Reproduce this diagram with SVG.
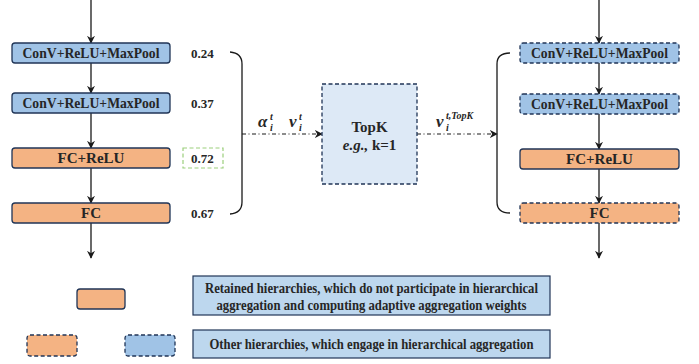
<svg xmlns="http://www.w3.org/2000/svg" width="699" height="364" viewBox="0 0 699 364" font-family="'Liberation Serif', 'Times New Roman', serif">
<defs>
<style>
.blue{fill:#a0c3e6;stroke:#203557;stroke-width:1.3}
.orange{fill:#f4b383;stroke:#203557;stroke-width:1.3}
.dash{stroke-dasharray:4 2.5}
text{font-family:'Liberation Serif','Times New Roman',serif;font-weight:bold;fill:#262626}
.lbl{font-size:15px;text-anchor:middle}
.val{font-size:13px}
.math{font-style:italic}
.line{stroke:#1a1a1a;stroke-width:1.3;fill:none}
.dd{stroke:#1a1a1a;stroke-width:1.2;fill:none;stroke-dasharray:4 2.5 1 2.5}
.legtxt{font-size:15px;text-anchor:middle}
</style>
<marker id="ah" viewBox="0 0 10 10" refX="9" refY="5" markerWidth="8" markerHeight="8" markerUnits="userSpaceOnUse" orient="auto">
<path d="M0,0 L10,5 L0,10 L3,5 z" fill="#1a1a1a"/>
</marker>
</defs>

<g id="connectors">
<line class="line" x1="91" y1="0" x2="91" y2="43" marker-end="url(#ah)"/>
<line class="line" x1="91" y1="63" x2="91" y2="93" marker-end="url(#ah)"/>
<line class="line" x1="91" y1="113" x2="91" y2="148" marker-end="url(#ah)"/>
<line class="line" x1="91" y1="168" x2="91" y2="203" marker-end="url(#ah)"/>
<line class="line" x1="91" y1="223" x2="91" y2="258" marker-end="url(#ah)"/>
<line class="line" x1="599" y1="0" x2="599" y2="43" marker-end="url(#ah)"/>
<line class="line" x1="599" y1="63" x2="599" y2="94" marker-end="url(#ah)"/>
<line class="line" x1="599" y1="114" x2="599" y2="149" marker-end="url(#ah)"/>
<line class="line" x1="599" y1="169" x2="599" y2="203" marker-end="url(#ah)"/>
<line class="line" x1="599" y1="223" x2="599" y2="258" marker-end="url(#ah)"/>
<path class="line" d="M230,52 Q242,53 242,64 L242,202 Q242,213 230,214"/>
<path class="line" d="M510,53 Q497,53 497,64 L497,202 Q497,213 510,213"/>
<line class="dd" x1="242" y1="134" x2="322" y2="134" marker-end="url(#ah)"/>
<line class="dd" x1="417" y1="134" x2="497" y2="134" marker-end="url(#ah)"/>
</g>

<g id="left-conv1">
<rect class="blue" x="12" y="43" width="158" height="20" rx="3"/>
<text class="lbl" x="91" y="58" textLength="137" lengthAdjust="spacingAndGlyphs">ConV+ReLU+MaxPool</text>
</g>
<g id="left-conv2">
<rect class="blue" x="12" y="93" width="158" height="20" rx="3"/>
<text class="lbl" x="91" y="108" textLength="137" lengthAdjust="spacingAndGlyphs">ConV+ReLU+MaxPool</text>
</g>
<g id="left-fcrelu">
<rect class="orange" x="12" y="148" width="158" height="20" rx="3"/>
<text class="lbl" x="91" y="163">FC+ReLU</text>
</g>
<g id="left-fc">
<rect class="orange" x="12" y="203" width="158" height="20" rx="3"/>
<text class="lbl" x="91" y="218">FC</text>
</g>

<g id="values">
<text class="val" x="191" y="58">0.24</text>
<text class="val" x="191" y="108">0.37</text>
<rect x="183" y="148" width="40" height="20" fill="none" stroke="#9ccf7c" stroke-width="1.2" stroke-dasharray="4 2.5"/>
<text class="val" x="191" y="163">0.72</text>
<text class="val" x="191" y="218">0.67</text>
</g>

<g id="topk">
<rect x="322" y="84" width="95" height="100" fill="#dde9f6" stroke="#203557" stroke-width="1.3" stroke-dasharray="4 2.5"/>
<text class="lbl" x="369.5" y="132">TopK</text>
<text class="lbl" x="369.5" y="150"><tspan font-style="italic">e.g.,</tspan> k=1</text>
</g>

<g id="labels">
<text class="math" x="258" y="127" font-size="17">α</text>
<text class="math" x="270" y="120" font-size="10">t</text>
<text class="math" x="270" y="131" font-size="10">i</text>
<text class="math" x="289" y="127" font-size="17">v</text>
<text class="math" x="299" y="120" font-size="10">t</text>
<text class="math" x="299" y="131" font-size="10">i</text>
<text class="math" x="436" y="127" font-size="17">v</text>
<text class="math" x="446" y="119" font-size="10">t,TopK</text>
<text class="math" x="446" y="131" font-size="10">i</text>
</g>

<g id="right-conv1">
<rect class="blue dash" x="520" y="43" width="159" height="20" rx="3"/>
<text class="lbl" x="599.5" y="58" textLength="137" lengthAdjust="spacingAndGlyphs">ConV+ReLU+MaxPool</text>
</g>
<g id="right-conv2">
<rect class="blue dash" x="520" y="94" width="159" height="20" rx="3"/>
<text class="lbl" x="599.5" y="109" textLength="137" lengthAdjust="spacingAndGlyphs">ConV+ReLU+MaxPool</text>
</g>
<g id="right-fcrelu">
<rect class="orange" x="520" y="149" width="159" height="20" rx="3"/>
<text class="lbl" x="599.5" y="164">FC+ReLU</text>
</g>
<g id="right-fc">
<rect class="orange dash" x="520" y="203" width="159" height="20" rx="3"/>
<text class="lbl" x="599.5" y="218">FC</text>
</g>

<g id="legend-solid">
<rect class="orange" x="77" y="289" width="48" height="20" rx="3"/>
</g>
<g id="legend-dashed-orange">
<rect class="orange dash" x="27" y="335" width="50" height="21" rx="3"/>
</g>
<g id="legend-dashed-blue">
<rect class="blue dash" x="125" y="335" width="50" height="21" rx="3"/>
</g>
<g id="legend-text1">
<rect x="193" y="276" width="357" height="39" fill="#bdd7ee" stroke="#203557" stroke-width="1.2"/>
<text class="legtxt" x="371.5" y="293" textLength="333" lengthAdjust="spacingAndGlyphs">Retained hierarchies, which do not participate in hierarchical</text>
<text class="legtxt" x="371.5" y="310" textLength="310" lengthAdjust="spacingAndGlyphs">aggregation and computing adaptive aggregation weights</text>
</g>
<g id="legend-text2">
<rect x="193" y="330" width="357" height="28" fill="#bdd7ee" stroke="#203557" stroke-width="1.2"/>
<text class="legtxt" x="371.5" y="349" textLength="324" lengthAdjust="spacingAndGlyphs">Other hierarchies, which engage in hierarchical aggregation</text>
</g>
</svg>
